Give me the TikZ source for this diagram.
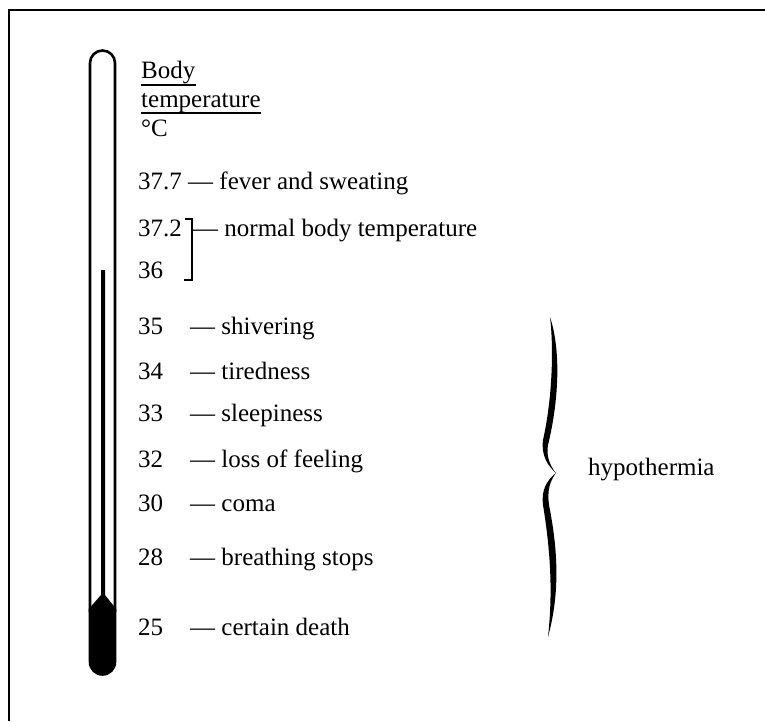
\documentclass[tikz,border=0pt]{standalone}
\usepackage{fontspec}
\setmainfont{Liberation Serif}
\usetikzlibrary{positioning}
\begin{document}
\begin{tikzpicture}[x=1pt, y=-1pt,
    lbl/.style={anchor=base west, inner sep=0pt, font=\fontsize{25}{30}\selectfont},
    rim/.style={line width=2.6pt},
    rule/.style={line width=1.4pt}]
    \useasboundingbox (0,0) rectangle (765,721);
    % frame
    \draw[line width=2pt] (9,721) -- (9,10) -- (765,10);
    % thermometer
    \draw[rim] (90,612) -- (90,63) arc[start angle=180, end angle=360, radius=12.5] -- (115,612);
    \fill (88.7,609) -- (101,595) -- (101,270) -- (105,270) -- (105,595) -- (116.3,609)
        -- (116.3,662) arc[start angle=0, end angle=180, radius=13.8] -- cycle;
    % heading
    \node[lbl] (body) at (141,78) {Body};
    \node[lbl] (temp) at (141,107) {temperature};
    \node[lbl] (unit) at (141,136) {°C};
    \draw[rule] ([yshift=-7pt]body.base west) -- ([yshift=-7pt]body.base east);
    \draw[rule] ([yshift=-6pt]temp.base west) -- ([yshift=-6pt]temp.base east);
    % upper values
    \node[lbl] (v377) at (138,189) {37.7};
    \node[lbl] (s377) at (188,189) {— fever and sweating};
    \node[lbl] (v372) at (138,236) {37.2};
    \node[lbl] (v36) at (138,278) {36};
    \draw[rule] (185,219) -- (192,219) -- (192,280) -- (184,280);
    \node[lbl] (snorm) at (193,236) {— normal body temperature};
    % lower values
    \foreach \t/\y/\txt [count=\i] in {35/334/shivering, 34/379/tiredness, 33/421/sleepiness,
        32/467/loss of feeling, 30/511/coma, 28/565/breathing stops, 25/635/certain death} {
        \node[lbl] (v\i) at (138,\y) {\t};
        \node[lbl] (s\i) at (190,\y) {— \txt};
    }
    % brace
    \fill (550,317) .. controls (561,350) and (559,400) .. (548,445)
        .. controls (546,456) and (550,466) .. (556,473)
        .. controls (550,481) and (547,490) .. (549,505)
        .. controls (560,560) and (558,600) .. (548,637)
        .. controls (552,600) and (552,560) .. (543,505)
        .. controls (541,490) and (547,480) .. (556,473)
        .. controls (548,466) and (541,456) .. (543,440)
        .. controls (552,400) and (554,350) .. (550,317) -- cycle;
    \node[lbl] (hypo) at (588,475) {hypothermia};
\end{tikzpicture}
\end{document}
